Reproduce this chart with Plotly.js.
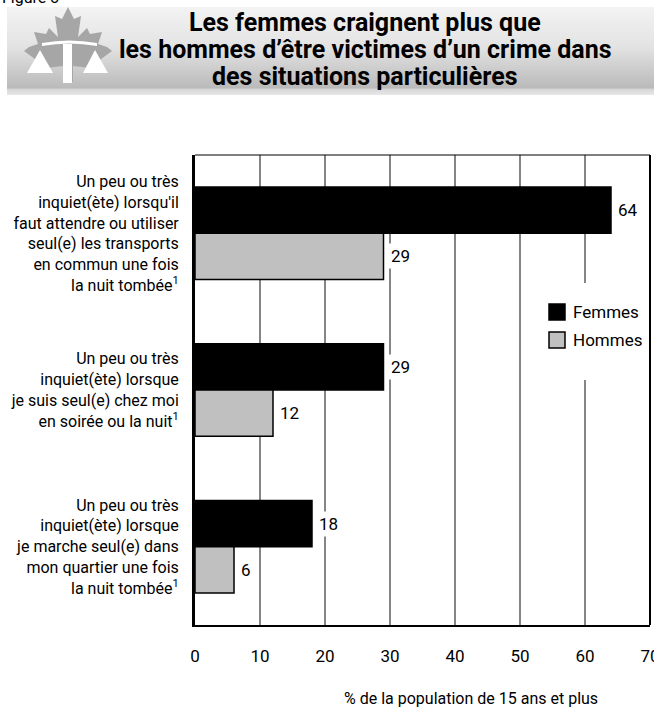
<!DOCTYPE html>
<html>
<head>
<meta charset="utf-8">
<script src="https://cdn.plot.ly/plotly-3.0.1.min.js"></script>
<style>html,body{margin:0;padding:0;background:#fff;}#chart{width:654px;height:710px;}</style>
</head>
<body>
<div id="chart"></div>
<script>
// ---- data ----
const categories = [
  "Un peu ou très<br>inquiet(ète) lorsqu'il<br>faut attendre ou utiliser<br>seul(e) les transports<br>en commun une fois<br>la nuit tombée<sup>1</sup>",
  "Un peu ou très<br>inquiet(ète) lorsque<br>je suis seul(e) chez moi<br>en soirée ou la nuit<sup>1</sup>",
  "Un peu ou très<br>inquiet(ète) lorsque<br>je marche seul(e) dans<br>mon quartier une fois<br>la nuit tombée<sup>1</sup>"
];
const femmes = [64, 29, 18];
const hommes = [29, 12, 6];
const seriesNames = ["Femmes", "Hommes"];
const seriesColors = ["#000000", "#c0c0c0"];
const xTicks = [0, 10, 20, 30, 40, 50, 60, 70];
const titleLines = [
  "Les femmes craignent plus que",
  "les hommes d’être victimes d’un crime dans",
  "des situations particulières"
];
const xTitle = "% de la population de 15 ans et plus";

const FONT = "Roboto, 'Liberation Sans', sans-serif";
const F = (size, extra) => Object.assign({family: FONT, size: size, color: "#000"}, extra || {});

// banner SVG (decorative header)
const bannerSvg = `<svg xmlns='http://www.w3.org/2000/svg' width='647' height='88' viewBox='0 0 647 88' preserveAspectRatio='none'>
<defs><linearGradient id='g' x1='0' y1='0' x2='0' y2='1'>
<stop offset='0' stop-color='#f3f3f3'/><stop offset='0.45' stop-color='#e3e3e3'/><stop offset='0.92' stop-color='#bababa'/><stop offset='0.935' stop-color='#d6d6d6'/><stop offset='1' stop-color='#e8e8e8'/></linearGradient></defs>
<rect x='0' y='0' width='647' height='88' fill='url(#g)'/>
<polygon fill='#a6a6a6' points='61,0 67,12 74,9 71,30 80,21 83,27 95,25 91,37 100,40 105,44 90,55 92,62 66,59 66,75 56,75 56,59 30,62 32,55 17,44 22,40 31,37 27,25 39,27 42,21 51,30 48,9 55,12'/>
<path d='M35,36 Q62,31 90,36 L90,39 Q62,34 35,39 Z' fill='#ffffff'/>
<rect x='56' y='37' width='9' height='39' fill='#ffffff'/>
<polygon fill='#ffffff' points='20,66 33,43 46,66'/>
<polygon fill='#ffffff' points='76,66 88,43 101,66'/>
</svg>`;
const bannerUri = "data:image/svg+xml;charset=utf-8," + encodeURIComponent(bannerSvg);

// plot area geometry (pixels) for converting paper coords of decorations
const W = 654, H = 710, ML = 195, MR = 4, MT = 155, MB = 85;
const PW = W - ML - MR, PH = H - MT - MB;
const px = x => (x - ML) / PW;
const py = y => (H - MB - y) / PH;

const traces = [femmes, hommes].map((vals, k) => ({
  type: "bar", orientation: "h", name: seriesNames[k],
  x: vals, y: categories,
  marker: {color: seriesColors[k], line: {color: "#000000", width: 1.5}},
  hoverinfo: "x", showlegend: false
}));

const BARGAP = 0.41;
const half = (1 - BARGAP) / 4;
const annotations = [];
[femmes, hommes].forEach((vals, k) => vals.forEach((v, i) => annotations.push({
  x: v, y: i + (k === 0 ? -half : half), xref: "x", yref: "y", text: String(v), showarrow: false,
  xanchor: "left", yanchor: "middle", xshift: 4, bgcolor: "#ffffff", borderpad: 2,
  font: F(17)
})));
// x axis title
annotations.push({
  x: px(471), y: py(698), xref: "paper", yref: "paper", text: xTitle, showarrow: false,
  xanchor: "center", yanchor: "middle", font: F(16)
});
// cut-off figure label
annotations.push({
  x: px(0), y: py(-3), xref: "paper", yref: "paper", text: "Figure 3", showarrow: false,
  xanchor: "left", yanchor: "middle", font: F(16)
});
// title lines
const titleY = [22, 49, 76];
titleLines.forEach((t, i) => annotations.push({
  x: px(365), y: py(titleY[i]), xref: "paper", yref: "paper", text: "<b>" + t + "</b>",
  showarrow: false, xanchor: "center", yanchor: "middle", font: F(25)
}));
// legend (manual, to match the square swatches)
const legY = [312, 340];
seriesNames.forEach((n, k) => annotations.push({
  x: px(571), y: py(legY[k]), xref: "paper", yref: "paper", text: n, showarrow: false,
  xanchor: "left", yanchor: "middle", font: F(17)
}));

const shapes = [
  // white panel behind legend (hides gridlines like the reference)
  {type: "rect", xref: "paper", yref: "paper", x0: px(541), x1: px(649), y0: py(380), y1: py(283),
   fillcolor: "#ffffff", line: {width: 0}, layer: "above"},
  {type: "line", xref: "paper", yref: "paper", x0: 1, x1: 1, y0: 0, y1: 1, line: {color: "#000", width: 2}},
  {type: "line", xref: "paper", yref: "paper", x0: 0, x1: 1, y0: 1, y1: 1, line: {color: "#000", width: 1}}
];
seriesColors.forEach((c, k) => shapes.push({
  type: "rect", xref: "paper", yref: "paper",
  x0: px(549), x1: px(565), y0: py(legY[k] + 8), y1: py(legY[k] - 8),
  fillcolor: c, line: {color: "#000", width: 1.5}, layer: "above"
}));

const layout = {
  width: W, height: H,
  margin: {l: ML, r: MR, t: MT, b: MB, pad: 0},
  paper_bgcolor: "#ffffff", plot_bgcolor: "#ffffff",
  font: F(16),
  barmode: "group", bargap: BARGAP, bargroupgap: 0,
  xaxis: {
    range: [0, 70], tickvals: xTicks, ticktext: xTicks.map(String),
    showgrid: true, gridcolor: "#858585", gridwidth: 1.5,
    zeroline: false, showline: true, linecolor: "#000", linewidth: 2,
    ticks: "", ticklabelstandoff: 15, ticklabeloverflow: "allow",
    tickfont: F(17), fixedrange: true
  },
  yaxis: {
    type: "category", categoryorder: "array", categoryarray: categories,
    range: [2.5, -0.5], showgrid: false, zeroline: false,
    showline: true, linecolor: "#000", linewidth: 3, ticks: "",
    ticklabelstandoff: 10,
    tickfont: F(16), fixedrange: true
  },
  showlegend: false,
  shapes: shapes,
  images: [{
    source: bannerUri, xref: "paper", yref: "paper",
    x: px(7), y: py(7), sizex: 647 / PW, sizey: 88 / PH,
    xanchor: "left", yanchor: "top", sizing: "stretch", layer: "below"
  }],
  annotations: annotations
};

Plotly.newPlot("chart", traces, layout, {displayModeBar: false, staticPlot: true});
</script>
</body>
</html>
